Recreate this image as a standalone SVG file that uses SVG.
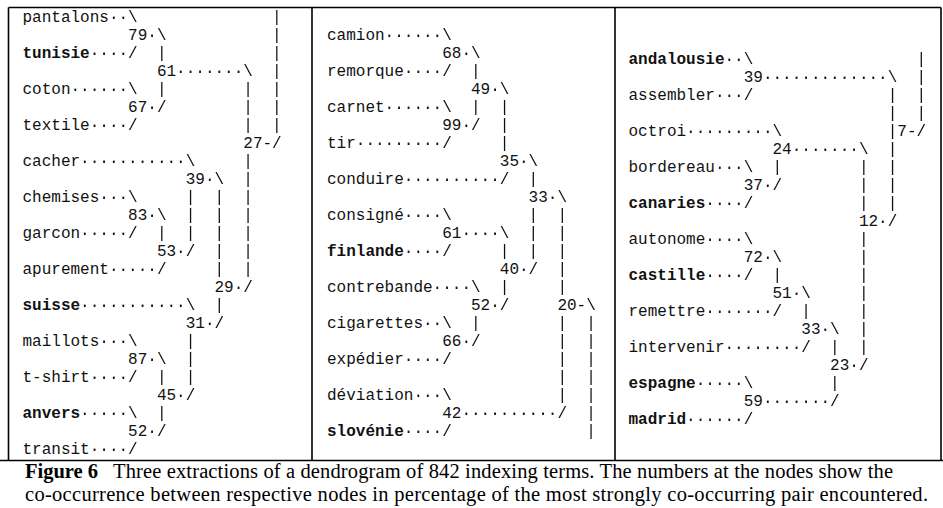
<svg xmlns="http://www.w3.org/2000/svg" width="943" height="508" viewBox="0 0 943 508">
<defs>
<filter id="gray" x="0" y="0" width="1" height="1"><feOffset dx="0" dy="0"/></filter>
</defs>
<style>
.m{font-family:"Liberation Mono","DejaVu Sans Mono",monospace;font-size:16px;fill:#111}
.b{font-weight:bold}
.cap{font-family:"Liberation Serif","Times New Roman",serif;font-size:20.5px;fill:#000}
.frame{stroke:#000;stroke-width:1.6;fill:none}
</style>
<rect width="943" height="508" fill="#fff"/>
<g id="frame" class="frame">
<path d="M8.5 7.5H941M8.5 7.5V460M312 7.5V460M615 7.5V460M941 7.5V460M0 460.5H943"/>
</g>
<g id="panel1-nodes" class="m">
<g id="n-pantalons"><text x="22.5" y="22">pantalons</text></g>
<g id="n-tunisie"><text x="22.5" y="58" class="b">tunisie</text></g>
<g id="n-coton"><text x="22.5" y="94">coton</text></g>
<g id="n-textile"><text x="22.5" y="130">textile</text></g>
<g id="n-cacher"><text x="22.5" y="166">cacher</text></g>
<g id="n-chemises"><text x="22.5" y="202">chemises</text></g>
<g id="n-garcon"><text x="22.5" y="238">garcon</text></g>
<g id="n-apurement"><text x="22.5" y="274">apurement</text></g>
<g id="n-suisse"><text x="22.5" y="310" class="b">suisse</text></g>
<g id="n-maillots"><text x="22.5" y="346">maillots</text></g>
<g id="n-tshirt"><text x="22.5" y="382">t-shirt</text></g>
<g id="n-anvers"><text x="22.5" y="418" class="b">anvers</text></g>
<g id="n-transit"><text x="22.5" y="454">transit</text></g>
<g id="p1-79"><text x="128.1" y="40">79</text></g>
<g id="p1-61"><text x="156.9" y="76">61</text></g>
<g id="p1-67"><text x="128.1" y="112">67</text></g>
<g id="p1-27"><text x="243.3" y="148">27</text></g>
<g id="p1-39"><text x="185.7" y="184">39</text></g>
<g id="p1-83"><text x="128.1" y="220">83</text></g>
<g id="p1-53"><text x="156.9" y="256">53</text></g>
<g id="p1-29"><text x="214.5" y="292">29</text></g>
<g id="p1-31"><text x="185.7" y="328">31</text></g>
<g id="p1-87"><text x="128.1" y="364">87</text></g>
<g id="p1-45"><text x="156.9" y="400">45</text></g>
<g id="p1-52"><text x="128.1" y="436">52</text></g>
</g>
<g id="panel2-nodes" class="m">
<g id="n-camion"><text x="327" y="40">camion</text></g>
<g id="n-remorque"><text x="327" y="76">remorque</text></g>
<g id="n-carnet"><text x="327" y="112">carnet</text></g>
<g id="n-tir"><text x="327" y="148">tir</text></g>
<g id="n-conduire"><text x="327" y="184">conduire</text></g>
<g id="n-consigne"><text x="327" y="220">consigné</text></g>
<g id="n-finlande"><text x="327" y="256" class="b">finlande</text></g>
<g id="n-contrebande"><text x="327" y="292">contrebande</text></g>
<g id="n-cigarettes"><text x="327" y="328">cigarettes</text></g>
<g id="n-expedier"><text x="327" y="364">expédier</text></g>
<g id="n-deviation"><text x="327" y="400">déviation</text></g>
<g id="n-slovenie"><text x="327" y="436" class="b">slovénie</text></g>
<g id="p2-68"><text x="442.2" y="58">68</text></g>
<g id="p2-49"><text x="471" y="94">49</text></g>
<g id="p2-99"><text x="442.2" y="130">99</text></g>
<g id="p2-35"><text x="499.8" y="166">35</text></g>
<g id="p2-33"><text x="528.6" y="202">33</text></g>
<g id="p2-61"><text x="442.2" y="238">61</text></g>
<g id="p2-40"><text x="499.8" y="274">40</text></g>
<g id="p2-52"><text x="471" y="310">52</text></g>
<g id="p2-20"><text x="557.4" y="310">20</text></g>
<g id="p2-66"><text x="442.2" y="346">66</text></g>
<g id="p2-42"><text x="442.2" y="418">42</text></g>
</g>
<g id="panel3-nodes" class="m">
<g id="n-andalousie"><text x="628.5" y="64" class="b">andalousie</text></g>
<g id="n-assembler"><text x="628.5" y="100">assembler</text></g>
<g id="n-octroi"><text x="628.5" y="136">octroi</text></g>
<g id="n-bordereau"><text x="628.5" y="172">bordereau</text></g>
<g id="n-canaries"><text x="628.5" y="208" class="b">canaries</text></g>
<g id="n-autonome"><text x="628.5" y="244">autonome</text></g>
<g id="n-castille"><text x="628.5" y="280" class="b">castille</text></g>
<g id="n-remettre"><text x="628.5" y="316">remettre</text></g>
<g id="n-intervenir"><text x="628.5" y="352">intervenir</text></g>
<g id="n-espagne"><text x="628.5" y="388" class="b">espagne</text></g>
<g id="n-madrid"><text x="628.5" y="424" class="b">madrid</text></g>
<g id="p3-39"><text x="743.7" y="82">39</text></g>
<g id="p3-7"><text x="897.3" y="136">7</text></g>
<g id="p3-24"><text x="772.5" y="154">24</text></g>
<g id="p3-37"><text x="743.7" y="190">37</text></g>
<g id="p3-12"><text x="858.9" y="226">12</text></g>
<g id="p3-72"><text x="743.7" y="262">72</text></g>
<g id="p3-51"><text x="772.5" y="298">51</text></g>
<g id="p3-33"><text x="801.3" y="334">33</text></g>
<g id="p3-23"><text x="830.1" y="370">23</text></g>
<g id="p3-59"><text x="743.7" y="406">59</text></g>
</g>
<g id="connectors" class="m" filter="url(#gray)">
<text x="108.9" y="22">··\</text><text x="272.1" y="22">|</text>
<text x="147.3" y="40">·\</text><text x="272.1" y="40">|</text>
<text x="89.7" y="58">····/</text><text x="156.9 272.1" y="58">||</text>
<text x="176.1" y="76">·······\</text><text x="272.1" y="76">|</text>
<text x="70.5" y="94">······\</text><text x="156.9 243.3 272.1" y="94">|||</text>
<text x="147.3" y="112">·/</text><text x="243.3 272.1" y="112">||</text>
<text x="89.7" y="130">····/</text><text x="243.3 272.1" y="130">||</text>
<text x="262.5" y="148">-/</text>
<text x="80.1" y="166">···········\</text><text x="243.3" y="166">|</text>
<text x="204.9" y="184">·\</text><text x="243.3" y="184">|</text>
<text x="99.3" y="202">···\</text><text x="185.7 214.5 243.3" y="202">|||</text>
<text x="147.3" y="220">·\</text><text x="185.7 214.5 243.3" y="220">|||</text>
<text x="80.1" y="238">·····/</text><text x="156.9 185.7 214.5 243.3" y="238">||||</text>
<text x="176.1" y="256">·/</text><text x="214.5 243.3" y="256">||</text>
<text x="108.9" y="274">·····/</text><text x="214.5 243.3" y="274">||</text>
<text x="233.7" y="292">·/</text>
<text x="80.1" y="310">···········\</text><text x="214.5" y="310">|</text>
<text x="204.9" y="328">·/</text>
<text x="99.3" y="346">···\</text><text x="185.7" y="346">|</text>
<text x="147.3" y="364">·\</text><text x="185.7" y="364">|</text>
<text x="89.7" y="382">····/</text><text x="156.9 185.7" y="382">||</text>
<text x="176.1" y="400">·/</text>
<text x="80.1" y="418">·····\</text><text x="156.9" y="418">|</text>
<text x="147.3" y="436">·/</text>
<text x="89.7" y="454">····/</text>

<text x="384.6" y="40">······\</text>
<text x="461.4" y="58">·\</text>
<text x="403.8" y="76">····/</text><text x="471" y="76">|</text>
<text x="490.2" y="94">·\</text>
<text x="384.6" y="112">······\</text><text x="471 499.8" y="112">||</text>
<text x="461.4" y="130">·/</text><text x="499.8" y="130">|</text>
<text x="355.8" y="148">·········/</text><text x="499.8" y="148">|</text>
<text x="519" y="166">·\</text>
<text x="403.8" y="184">··········/</text><text x="528.6" y="184">|</text>
<text x="547.8" y="202">·\</text>
<text x="403.8" y="220">····\</text><text x="528.6 557.4" y="220">||</text>
<text x="461.4" y="238">····\</text><text x="528.6 557.4" y="238">||</text>
<text x="403.8" y="256">····/</text><text x="499.8 528.6 557.4" y="256">|||</text>
<text x="519" y="274">·/</text><text x="557.4" y="274">|</text>
<text x="432.6" y="292">····\</text><text x="499.8 557.4" y="292">||</text>
<text x="490.2" y="310">·/</text><text x="576.6" y="310">-\</text>
<text x="423" y="328">··\</text><text x="471 557.4 586.2" y="328">|||</text>
<text x="461.4" y="346">·/</text><text x="557.4 586.2" y="346">||</text>
<text x="403.8" y="364">····/</text><text x="557.4 586.2" y="364">||</text>
<text x="557.4 586.2" y="382">||</text>
<text x="413.4" y="400">···\</text><text x="557.4 586.2" y="400">||</text>
<text x="461.4" y="418">··········/</text><text x="586.2" y="418">|</text>
<text x="403.8" y="436">····/</text><text x="586.2" y="436">|</text>

<text x="724.5" y="64">··\</text><text x="916.5" y="64">|</text>
<text x="762.9" y="82">·············\</text><text x="916.5" y="82">|</text>
<text x="714.9" y="100">···/</text><text x="887.7 916.5" y="100">||</text>
<text x="887.7 916.5" y="118">||</text>
<text x="686.1" y="136">·········\</text><text x="887.7" y="136">|</text><text x="906.9" y="136">-/</text>
<text x="791.7" y="154">·······\</text><text x="887.7" y="154">|</text>
<text x="714.9" y="172">···\</text><text x="772.5 858.9 887.7" y="172">|||</text>
<text x="762.9" y="190">·/</text><text x="858.9 887.7" y="190">||</text>
<text x="705.3" y="208">····/</text><text x="858.9 887.7" y="208">||</text>
<text x="878.1" y="226">·/</text>
<text x="705.3" y="244">····\</text><text x="858.9" y="244">|</text>
<text x="762.9" y="262">·\</text><text x="858.9" y="262">|</text>
<text x="705.3" y="280">····/</text><text x="772.5 858.9" y="280">||</text>
<text x="791.7" y="298">·\</text><text x="858.9" y="298">|</text>
<text x="705.3" y="316">·······/</text><text x="801.3 858.9" y="316">||</text>
<text x="820.5" y="334">·\</text><text x="858.9" y="334">|</text>
<text x="724.5" y="352">········/</text><text x="830.1 858.9" y="352">||</text>
<text x="849.3" y="370">·/</text>
<text x="695.7" y="388">·····\</text><text x="830.1" y="388">|</text>
<text x="762.9" y="406">·······/</text>
<text x="686.1" y="424">······/</text>
</g>
<g id="caption" class="cap">
<text x="25" y="478"><tspan font-weight="bold">Figure 6</tspan><tspan x="113" textLength="780" lengthAdjust="spacing">Three extractions of a dendrogram of 842 indexing terms. The numbers at the nodes show the</tspan></text>
<text x="25" y="501" textLength="903" lengthAdjust="spacing">co-occurrence between respective nodes in percentage of the most strongly co-occurring pair encountered.</text>
</g>
</svg>
